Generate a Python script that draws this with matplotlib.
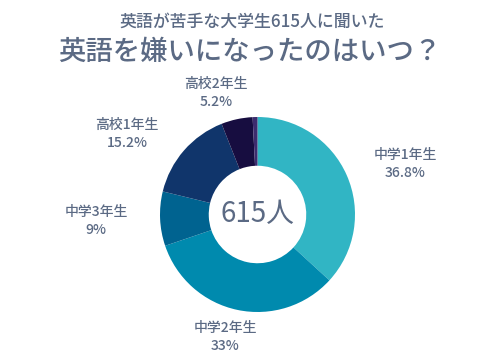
import matplotlib.pyplot as plt

plt.rcParams['font.family'] = ['Noto Sans CJK JP', 'DejaVu Sans']

grades = ['中学1年生', '中学2年生', '中学3年生', '高校1年生', '高校2年生', 'その他']
shares = [36.8, 33, 9, 15.2, 5.2, 0.8]
colors = ['#31b5c4', '#008aae', '#006390', '#10356b', '#170d40', '#3d2c6e']
label_pos = [(405, 164), (225, 337), (96, 221), (127, 134), (216, 93), None]

txt = '#5b6a84'
W, H = 500, 362

fig = plt.figure(figsize=(5, 3.62), dpi=100)
cx, cy, r = 257.5, 214.5, 97.5
ax = fig.add_axes([(cx - r) / W, (H - cy - r) / H, 2 * r / W, 2 * r / H])
ax.pie(shares, colors=colors, startangle=90, counterclock=False, radius=1,
       wedgeprops=dict(width=0.5, linewidth=0))
ax.set_xlim(-1, 1)
ax.set_ylim(-1, 1)
ax.text(0, 0, '615人', ha='center', va='center', fontsize=20, color=txt)

for g, s, p in zip(grades, shares, label_pos):
    if p is None:
        continue
    fig.text(p[0] / W, 1 - p[1] / H, f'{g}\n{s:g}%', ha='center', va='center',
             fontsize=10, color=txt, linespacing=1.35, fontweight='medium')

fig.text(252 / W, 1 - 22 / H, '英語が苦手な大学生615人に聞いた', ha='center', va='center',
         fontsize=12.2, color=txt, fontweight='medium')
fig.text(250 / W, 1 - 51 / H, '英語を嫌いになったのはいつ？', ha='center', va='center',
         fontsize=19.7, color=txt, fontweight='medium')

fig.savefig('out.png', dpi=100, facecolor='white')
